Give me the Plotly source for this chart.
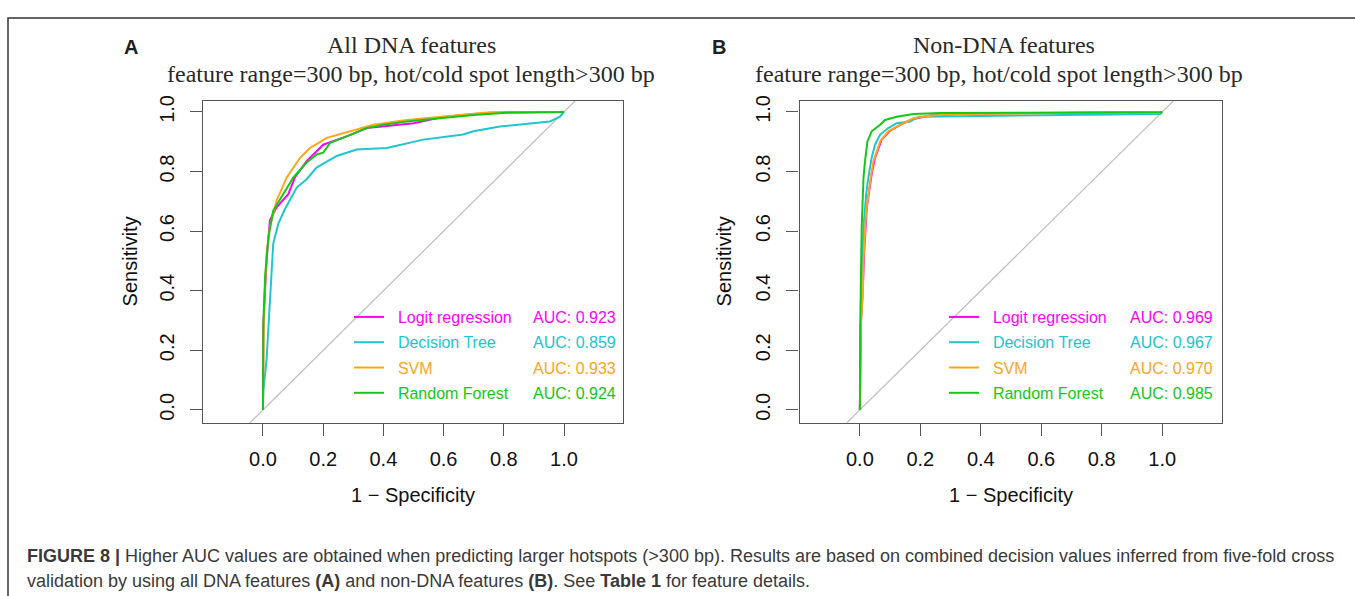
import plotly.graph_objects as go

W, H = 1355, 596

MODELS = ["Logit regression", "Decision Tree", "SVM", "Random Forest"]
COLORS = ["#FF00FF", "#20C6CE", "#FFA51A", "#16C816"]

# ---- Panel A: All DNA features (x = 1 - specificity, y = sensitivity)
A_LOGIT_X = [0, 0.001, 0.012, 0.023, 0.045, 0.084, 0.106, 0.145, 0.2, 0.278, 0.345, 0.455, 0.5, 0.588, 0.699, 0.81, 1.0]
A_LOGIT_Y = [0, 0.281, 0.503, 0.636, 0.680, 0.724, 0.780, 0.835, 0.890, 0.918, 0.946, 0.957, 0.962, 0.981, 0.993, 0.999, 1.0]
A_TREE_X = [0, 0.001, 0.012, 0.021, 0.029, 0.034, 0.051, 0.073, 0.112, 0.145, 0.178, 0.245, 0.311, 0.411, 0.533, 0.665, 0.699, 0.787, 0.953, 0.987, 1.0]
A_TREE_Y = [0, 0.060, 0.170, 0.337, 0.447, 0.558, 0.625, 0.674, 0.746, 0.774, 0.813, 0.852, 0.874, 0.879, 0.907, 0.924, 0.935, 0.951, 0.968, 0.984, 1.0]
A_SVM_X = [0, 0.003, 0.012, 0.023, 0.045, 0.079, 0.123, 0.156, 0.212, 0.289, 0.366, 0.477, 0.588, 0.754, 1.0]
A_SVM_Y = [0, 0.337, 0.525, 0.614, 0.702, 0.780, 0.846, 0.879, 0.913, 0.935, 0.957, 0.973, 0.984, 0.999, 1.0]
A_RF_X = [0, 0.001, 0.007, 0.018, 0.034, 0.067, 0.101, 0.145, 0.178, 0.2, 0.223, 0.278, 0.345, 0.40, 0.477, 0.588, 0.699, 0.81, 0.998, 1.0]
A_RF_Y = [0, 0.281, 0.447, 0.580, 0.669, 0.724, 0.780, 0.830, 0.857, 0.863, 0.896, 0.918, 0.946, 0.957, 0.968, 0.979, 0.990, 0.997, 0.999, 1.0]
AUC_A = ["0.923", "0.859", "0.933", "0.924"]

# ---- Panel B: Non-DNA features
B_LOGIT_X = [0, 0.003, 0.010, 0.014, 0.023, 0.030, 0.039, 0.050, 0.072, 0.100, 0.144, 0.177, 0.232, 0.343, 0.994, 1.0]
B_LOGIT_Y = [0, 0.281, 0.414, 0.525, 0.680, 0.735, 0.791, 0.846, 0.907, 0.937, 0.962, 0.976, 0.988, 0.994, 0.999, 1.0]
B_TREE_X = [0, 0.003, 0.008, 0.012, 0.021, 0.028, 0.039, 0.050, 0.067, 0.094, 0.122, 0.166, 0.188, 0.199, 0.994, 1.0]
B_TREE_Y = [0, 0.281, 0.503, 0.614, 0.724, 0.780, 0.846, 0.890, 0.924, 0.946, 0.962, 0.968, 0.981, 0.984, 0.993, 1.0]
B_SVM_X = [0, 0.003, 0.010, 0.012, 0.021, 0.028, 0.036, 0.045, 0.067, 0.094, 0.122, 0.177, 0.232, 0.288, 0.994, 1.0]
B_SVM_Y = [0, 0.281, 0.392, 0.503, 0.669, 0.724, 0.780, 0.835, 0.901, 0.935, 0.951, 0.979, 0.987, 0.992, 0.999, 1.0]
B_RF_X = [0, 0.001, 0.006, 0.012, 0.017, 0.025, 0.039, 0.067, 0.083, 0.122, 0.177, 0.266, 0.994, 1.0]
B_RF_Y = [0, 0.281, 0.614, 0.780, 0.835, 0.901, 0.935, 0.957, 0.973, 0.984, 0.993, 0.996, 0.999, 1.0]
AUC_B = ["0.969", "0.967", "0.970", "0.985"]

TICK_VALS = [0, 0.2, 0.4, 0.6, 0.8, 1.0]
TICK_TEXT = ["0.0", "0.2", "0.4", "0.6", "0.8", "1.0"]
DIAG = [-0.3, 1.3]

SANS = "Liberation Sans, Arial, sans-serif"
SERIF = "Liberation Serif, Times New Roman, serif"


def px_x(p):
    return p / W


def px_y(p):
    return 1 - p / H


fig = go.Figure()

panels = [
    ("x", "y", [(A_LOGIT_X, A_LOGIT_Y), (A_TREE_X, A_TREE_Y), (A_SVM_X, A_SVM_Y), (A_RF_X, A_RF_Y)], AUC_A, "legend", "legend2"),
    ("x2", "y2", [(B_LOGIT_X, B_LOGIT_Y), (B_TREE_X, B_TREE_Y), (B_SVM_X, B_SVM_Y), (B_RF_X, B_RF_Y)], AUC_B, "legend3", "legend4"),
]

NBSP = "\u00a0\u00a0"
for xa, ya, curves, aucs, leg_names, leg_auc in panels:
    fig.add_trace(go.Scatter(x=DIAG, y=DIAG, mode="lines", xaxis=xa, yaxis=ya,
                             line=dict(color="#BEBEBE", width=1.2), showlegend=False, hoverinfo="skip"))
    for i, (cx, cy) in enumerate(curves):
        fig.add_trace(go.Scatter(
            x=cx, y=cy, mode="lines", xaxis=xa, yaxis=ya,
            line=dict(color=COLORS[i], width=2),
            name=f'{NBSP}<span style="color:{COLORS[i]}">{MODELS[i]}</span>',
            legend=leg_names, legendgroup=f"{leg_names}{i}", showlegend=True))
    for i, a in enumerate(aucs):
        fig.add_trace(go.Scatter(
            x=[None], y=[None], mode="lines", xaxis=xa, yaxis=ya,
            line=dict(color="rgba(0,0,0,0)", width=0),
            name=f'<span style="color:{COLORS[i]}">AUC: {a}</span>',
            legend=leg_auc, legendgroup=f"{leg_auc}{i}", showlegend=True, hoverinfo="skip"))

AX = dict(showgrid=False, zeroline=False, showline=True, mirror=True, linecolor="#555555", linewidth=1.3,
          ticks="outside", ticklen=12, tickwidth=1.3, tickcolor="#555555",
          tickvals=TICK_VALS, ticktext=TICK_TEXT,
          tickfont=dict(family=SANS, size=20, color="#111111"))

y_dom = [px_y(421), px_y(95.7)]
fig.update_layout(
    width=W, height=H, margin=dict(l=0, r=0, t=0, b=0),
    paper_bgcolor="white", plot_bgcolor="white",
    xaxis=dict(AX, domain=[px_x(203), px_x(623)], range=[-0.1993, 1.196], anchor="y", ticklabelstandoff=6),
    yaxis=dict(AX, domain=y_dom, range=[-0.0432, 1.0375], anchor="x", tickangle=-90, ticklabelstandoff=8),
    xaxis2=dict(AX, domain=[px_x(799.5), px_x(1222)], range=[-0.1997, 1.1977], anchor="y2", ticklabelstandoff=6),
    yaxis2=dict(AX, domain=y_dom, range=[-0.0432, 1.0375], anchor="x2", tickangle=-90, ticklabelstandoff=8),
)

LEG = dict(bgcolor="rgba(0,0,0,0)", borderwidth=0, font=dict(family=SANS, size=16),
           tracegroupgap=1.5, xanchor="left", yanchor="top", orientation="v")
leg_top = px_y(297)
fig.update_layout(
    legend=dict(LEG, x=px_x(349), y=leg_top, itemwidth=30),
    legend2=dict(LEG, x=px_x(483), y=leg_top, itemwidth=40),
    legend3=dict(LEG, x=px_x(944), y=leg_top, itemwidth=30),
    legend4=dict(LEG, x=px_x(1080), y=leg_top, itemwidth=40),
)

PAPER = dict(xref="paper", yref="paper", showarrow=False)
ann = []
# panel titles
for cx1, cx2, t1 in [(411, 411, "All DNA features"), (1004, 999, "Non-DNA features")]:
    ann.append(dict(PAPER, x=px_x(cx1), y=px_y(39), text=t1, xanchor="center", yanchor="middle",
                    font=dict(family=SERIF, size=24, color="#2a2a2a")))
    ann.append(dict(PAPER, x=px_x(cx2), y=px_y(69), text="feature range=300 bp, hot/cold spot length>300 bp",
                    xanchor="center", yanchor="middle",
                    font=dict(family=SERIF, size=24, color="#2a2a2a")))
# panel letters
for cx, L in [(131, "A"), (719, "B")]:
    ann.append(dict(PAPER, x=px_x(cx), y=px_y(41), text=f"<b>{L}</b>", xanchor="center", yanchor="middle",
                    font=dict(family=SANS, size=20, color="#231F20")))
# axis titles
for cx in [130, 724]:
    ann.append(dict(PAPER, x=px_x(cx), y=px_y(258), text="Sensitivity", textangle=-90,
                    xanchor="center", yanchor="middle", font=dict(family=SANS, size=20, color="#111111")))
for cx in [413, 1011]:
    ann.append(dict(PAPER, x=px_x(cx), y=px_y(494), text="1 − Specificity",
                    xanchor="center", yanchor="middle", font=dict(family=SANS, size=20, color="#111111")))
# caption
cap1 = ("<b>FIGURE 8 |</b> Higher AUC values are obtained when predicting larger hotspots (&gt;300 bp). "
        "Results are based on combined decision values inferred from five-fold cross")
cap2 = ("validation by using all DNA features <b>(A)</b> and non-DNA features <b>(B)</b>. "
        "See <b>Table 1</b> for feature details.")
for yy, t in [(556, cap1), (581, cap2)]:
    ann.append(dict(PAPER, x=px_x(25), y=px_y(yy), text=t, xanchor="left", yanchor="middle",
                    font=dict(family=SANS, size=18, color="#3A3A3A")))
fig.update_layout(annotations=ann)

# outer frame
fig.add_shape(type="path", xref="paper", yref="paper",
              path=f"M {px_x(8)} {px_y(600)} L {px_x(8)} {px_y(12)} L {px_x(1360)} {px_y(12)}",
              line=dict(color="#333333", width=1.5))

fig.write_html("out.html")
